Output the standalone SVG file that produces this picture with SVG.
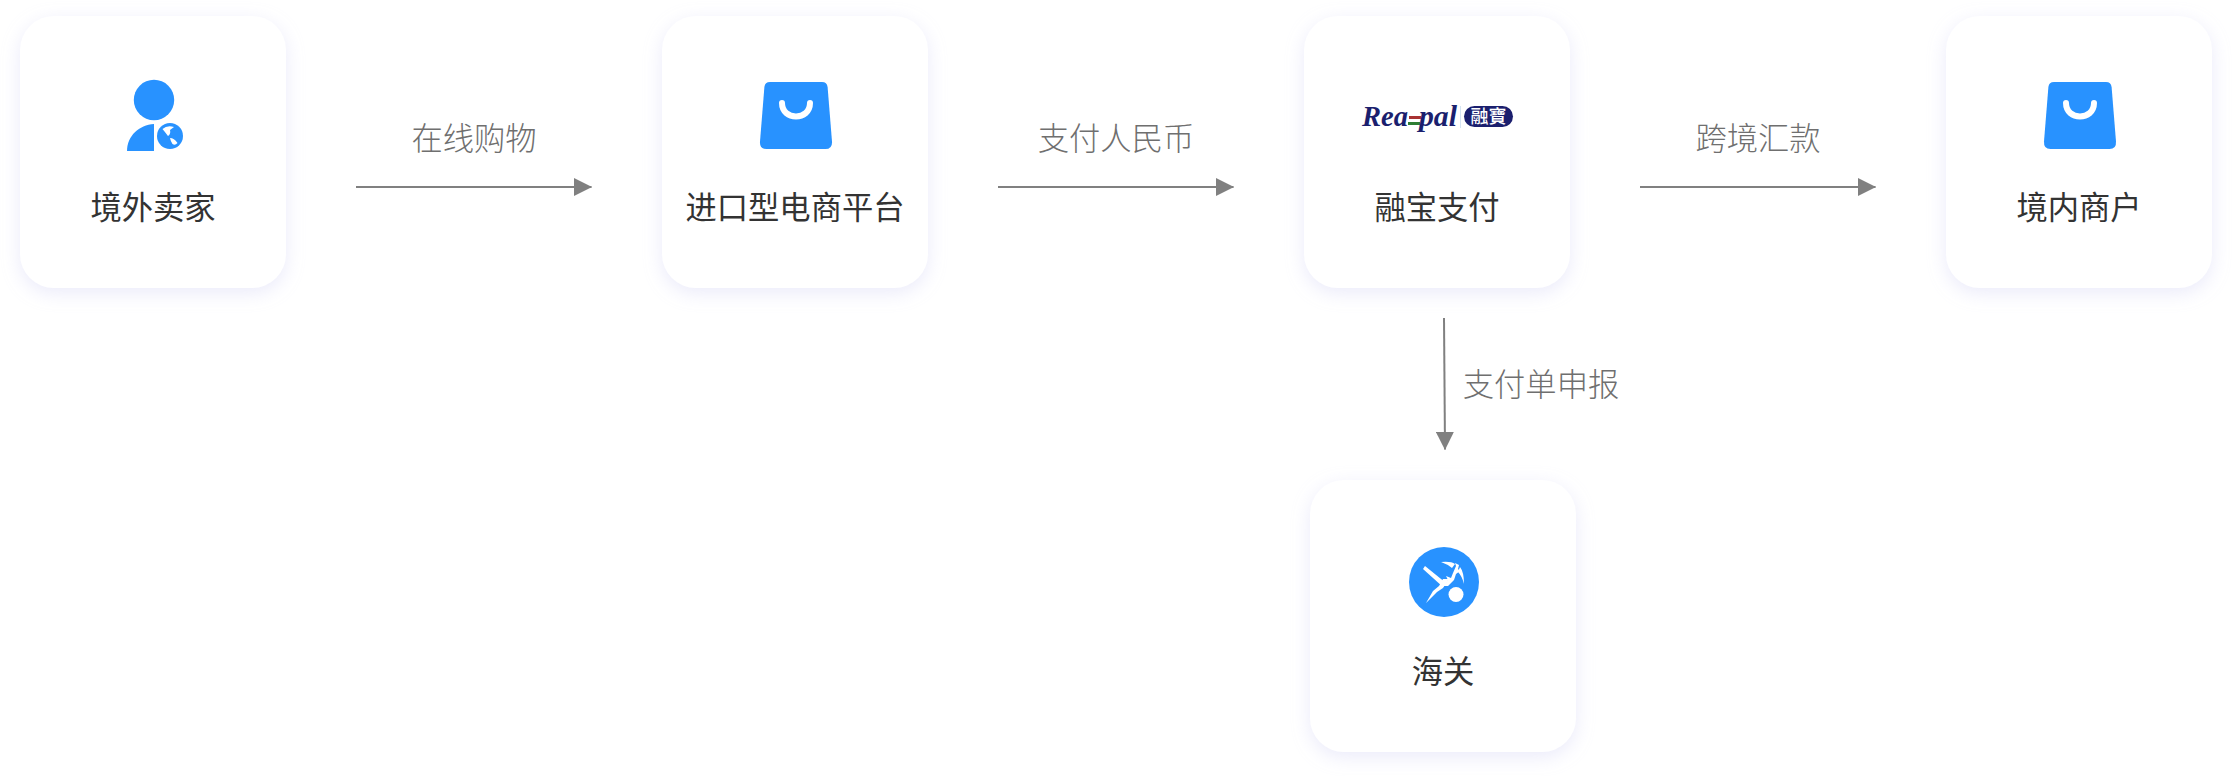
<svg xmlns="http://www.w3.org/2000/svg" width="2232" height="776" viewBox="0 0 2232 776">
  <style>
    .card { fill: #fff; filter: url(#sh); }
    .name { font: 400 31.3px "Noto Sans CJK SC", "Noto Sans", sans-serif; fill: #333; text-anchor: middle; }
    .lab { font: 300 31.3px "Noto Sans CJK SC", "Noto Sans", sans-serif; fill: #6f6f6f; text-anchor: middle; }
    .edge { fill: none; stroke: #808080; stroke-width: 2; marker-end: url(#ah); }
    .blue { fill: #2892ff; }
  </style>
  <defs>
    <filter id="sh" x="-20%" y="-20%" width="140%" height="140%">
      <feDropShadow dx="0" dy="5" stdDeviation="9" flood-color="#c9c9f2" flood-opacity="0.38"/>
    </filter>
    <marker id="ah" markerUnits="userSpaceOnUse" markerWidth="18" markerHeight="18" refX="17.5" refY="9" orient="auto">
      <path d="M0 0L18 9L0 18Z" fill="#808080"/>
    </marker>
    <g id="bag">
      <path class="blue" d="M-26 -33.5H26Q31 -33.5 31.6 -28.5L36 26Q36.5 33.5 29.5 33.5H-29.5Q-36.5 33.5 -36 26L-31.6 -28.5Q-31 -33.5 -26 -33.5Z"/>
      <path d="M-14 -12.5C-14 5.5 14 5.5 14 -12.5" fill="none" stroke="#fff" stroke-width="6" stroke-linecap="round"/>
    </g>
  </defs>
  <rect width="2232" height="776" fill="#fff"/>

  <g id="connectors">
    <path class="edge" d="M356 187H591.5"/>
    <path class="edge" d="M998 187H1233.5"/>
    <path class="edge" d="M1640 187H1875.5"/>
    <path class="edge" d="M1444 318L1445 449.5"/>
    <text class="lab" x="474" y="150">在线购物</text>
    <text class="lab" x="1116" y="150">支付人民币</text>
    <text class="lab" x="1758" y="150">跨境汇款</text>
    <text class="lab" x="1541" y="396">支付单申报</text>
  </g>

  <g id="seller">
    <rect class="card" x="20" y="16" width="266" height="272" rx="34"/>
    <circle class="blue" cx="154" cy="100" r="20.2"/>
    <path class="blue" d="M154 124V151H127C127 136 139 125 154 124Z"/>
    <circle class="blue" cx="170" cy="136" r="13"/>
    <path d="M162.5 129Q167 125 174 127L170 130Q171 134 168 136Q165 132 162.5 129ZM170 138Q174 138 177.5 143Q175 146 172.5 144Q170.500 141 170 138Z" fill="#fff"/>
    <text class="name" x="153" y="219">境外卖家</text>
  </g>

  <g id="platform">
    <rect class="card" x="662" y="16" width="266" height="272" rx="34"/>
    <use href="#bag" x="796" y="115.5"/>
    <text class="name" x="795" y="219">进口型电商平台</text>
  </g>

  <g id="reapal">
    <rect class="card" x="1304" y="16" width="266" height="272" rx="34"/>
    <text x="1362" y="126" font-family="Liberation Serif, serif" font-weight="700" font-style="italic" font-size="30" textLength="46" lengthAdjust="spacingAndGlyphs" fill="#1b1f6e">Rea</text>
    <rect x="1409" y="116" width="12" height="3" fill="#a83232"/>
    <rect x="1408" y="122" width="12" height="3" fill="#2e7d32"/>
    <text x="1419" y="126" font-family="Liberation Serif, serif" font-weight="700" font-style="italic" font-size="30" textLength="38" lengthAdjust="spacingAndGlyphs" fill="#1b1f6e">pal</text>
    <rect x="1460" y="106" width="1" height="22" fill="#d5e4f2"/>
    <rect x="1464" y="106" width="49" height="21" rx="10.5" fill="#1b1f6e"/>
    <text x="1488.5" y="123" font-family="Noto Sans CJK TC, sans-serif" font-weight="500" font-size="18" fill="#fff" text-anchor="middle">融寶</text>
    <text class="name" x="1437" y="219">融宝支付</text>
  </g>

  <g id="merchant">
    <rect class="card" x="1946" y="16" width="266" height="272" rx="34"/>
    <use href="#bag" x="2080" y="115.5"/>
    <text class="name" x="2079" y="219">境内商户</text>
  </g>

  <g id="customs">
    <rect class="card" x="1310" y="480" width="266" height="272" rx="34"/>
    <circle class="blue" cx="1444" cy="582" r="35"/>
    <g fill="#fff">
      <path d="M1425 566L1446 583L1443 587L1423 569Z"/>
      <path d="M1449 579L1443 588L1437 592L1426 603L1433 591L1439 586L1443 579Z"/>
      <circle cx="1456" cy="594.500" r="7.500"/>
      <path d="M1443 586L1448 580L1446 576L1451 578L1453 573L1456 566L1455 563L1459 565L1458 569L1460 571L1456 574L1454 580L1448 586Z"/>
      <path d="M1441 562Q1451 561 1455 564L1452 568Q1447 564 1441 562ZM1460 567Q1464 572 1464 584Q1462 576 1458 572Z"/>
    </g>
    <text class="name" x="1443" y="683">海关</text>
  </g>
</svg>
